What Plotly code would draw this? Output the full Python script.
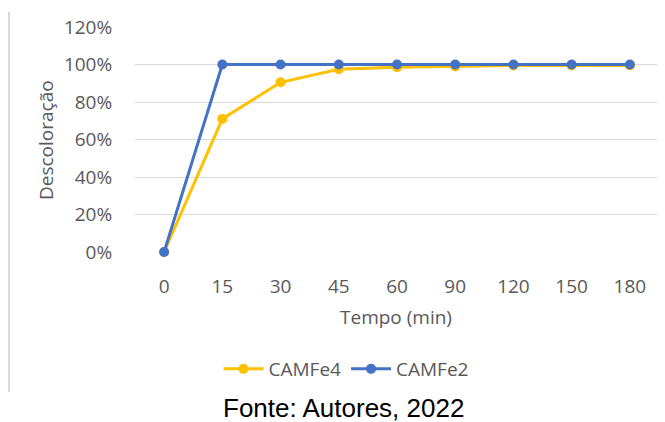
import plotly.graph_objects as go

categories = ["0", "15", "30", "45", "60", "90", "120", "150", "180"]
camfe4 = [0.0, 0.71, 0.905, 0.975, 0.985, 0.99, 0.995, 0.995, 0.995]
camfe2 = [0.0, 1.0, 1.0, 1.0, 1.0, 1.0, 1.0, 1.0, 1.0]
y_ticks = [0, 0.2, 0.4, 0.6, 0.8, 1.0, 1.2]

OFF = 8  # default page body margin
W, H = 665 - OFF, 422 - OFF
L, R, T, B = 135 - OFF, 6, 27 - OFF, 170
pw, ph = W - L - R, H - T - B

def px_x(x):
    return (x - OFF - L) / pw

def px_y(y):
    return (H - B - (y - OFF)) / ph

tick_font = dict(family="Open Sans, sans-serif", size=19, color="#595959")

fig = go.Figure()
fig.add_trace(go.Scatter(
    x=categories, y=camfe4, name="CAMFe4", mode="lines+markers",
    line=dict(color="#FFC000", width=3), marker=dict(color="#FFC000", size=10),
    cliponaxis=False))
fig.add_trace(go.Scatter(
    x=categories, y=camfe2, name="CAMFe2", mode="lines+markers",
    line=dict(color="#4472C4", width=3), marker=dict(color="#4472C4", size=10),
    cliponaxis=False))

fig.update_layout(
    width=W, height=H,
    margin=dict(l=L, r=R, t=T, b=B),
    paper_bgcolor="white", plot_bgcolor="white",
    showlegend=True,
    legend=dict(orientation="h", x=px_x(346), y=px_y(369), xanchor="center", yanchor="middle",
                font=tick_font, itemwidth=40, tracegroupgap=0),
    xaxis=dict(type="category", categoryorder="array", categoryarray=categories,
               range=[-0.5, 8.5], showgrid=False, zeroline=False, showline=False,
               ticks="outside", ticklen=17, tickcolor="rgba(0,0,0,0)",
               tickfont=tick_font, fixedrange=True),
    yaxis=dict(range=[0, 1.2], tickvals=y_ticks, tickformat=".0%",
               showgrid=True, gridcolor="#d9d9d9", gridwidth=1,
               zeroline=False, showline=False,
               ticks="outside", ticklen=18, tickcolor="rgba(0,0,0,0)",
               tickfont=tick_font, fixedrange=True),
    annotations=[
        dict(text="Tempo (min)", xref="paper", yref="paper", x=px_x(396), y=px_y(317),
             xanchor="center", yanchor="middle", showarrow=False, font=tick_font),
        dict(text="Descoloração", xref="paper", yref="paper", x=px_x(46), y=px_y(140),
             xanchor="center", yanchor="middle", showarrow=False, textangle=-90, font=tick_font),
        dict(text="Fonte: Autores, 2022", xref="paper", yref="paper", x=px_x(343), y=px_y(408),
             xanchor="center", yanchor="middle", showarrow=False,
             font=dict(family="Liberation Sans, Arial, sans-serif", size=26, color="black")),
    ],
    shapes=[
        dict(type="line", xref="paper", yref="paper", x0=px_x(9), x1=px_x(9),
             y0=px_y(12), y1=px_y(392), line=dict(color="#d9d9d9", width=2)),
    ],
)

fig.write_html("out.html")
